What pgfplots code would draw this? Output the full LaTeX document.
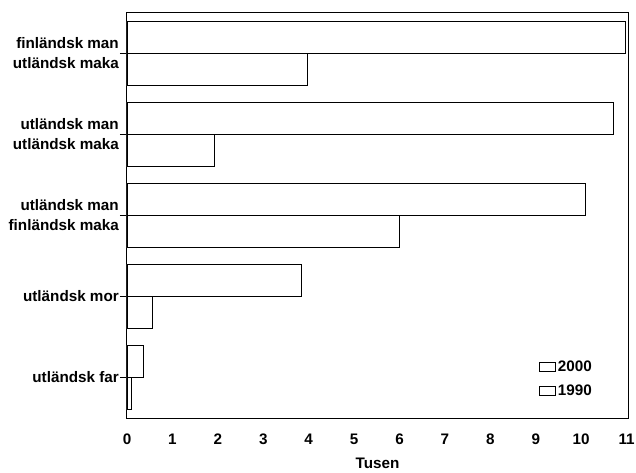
\documentclass[border=0pt]{standalone}
\usepackage{fontspec}
\setmainfont{Liberation Sans}
\usepackage{pgfplots}
\pgfplotsset{compat=1.18}
\begin{document}
\bfseries\fontsize{15.3}{20}\selectfont
\begin{tikzpicture}
\begin{axis}[
  scale only axis, width=501bp, height=405bp,
  xmin=0, xmax=11.03, ymin=-0.5, ymax=4.5,
  xbar, bar width=0.4,
  xtick={0,1,...,11}, ytick={0,1,2,3,4},
  yticklabels={utländsk far, utländsk mor, {utländsk man\\finländsk maka}, {utländsk man\\utländsk maka}, {finländsk man\\utländsk maka}},
  yticklabel style={align=right, inner xsep=1bp},
  xticklabel style={yshift=-4bp},
  /pgf/number format/assume math mode=true,
  tick align=outside, ytick pos=left, xtick pos=bottom,
  major tick length=7bp,
  xtick style={draw=none},
  ytick style={line width=0.8bp, black},
  axis line style={line width=1bp},
  xlabel={Tusen},
  xlabel style={yshift=-3bp},
  legend style={at={(1,0)}, anchor=south east, xshift=-34bp, yshift=18bp, draw=none, fill=none, row sep=7bp, inner sep=0pt, /tikz/every even column/.append style={column sep=0pt}},
  legend cell align=left,
  legend image code/.code={\draw[#1,fill=white] (0bp,-4.5bp) rectangle (16bp,4.5bp);},
]
\addplot[fill=white, draw=black, line width=0.9bp, bar shift=0.2] coordinates {(10.97,4) (10.7,3) (10.1,2) (3.83,1) (0.37,0)};
\addplot[fill=white, draw=black, line width=0.9bp, bar shift=-0.2] coordinates {(3.97,4) (1.92,3) (6.0,2) (0.55,1) (0.09,0)};
\legend{2000,1990}
\end{axis}
\pgfresetboundingbox
\path[use as bounding box] (current axis.south west) ++(-127bp,-55bp) rectangle ++(636bp,473bp);
\end{tikzpicture}
\end{document}
